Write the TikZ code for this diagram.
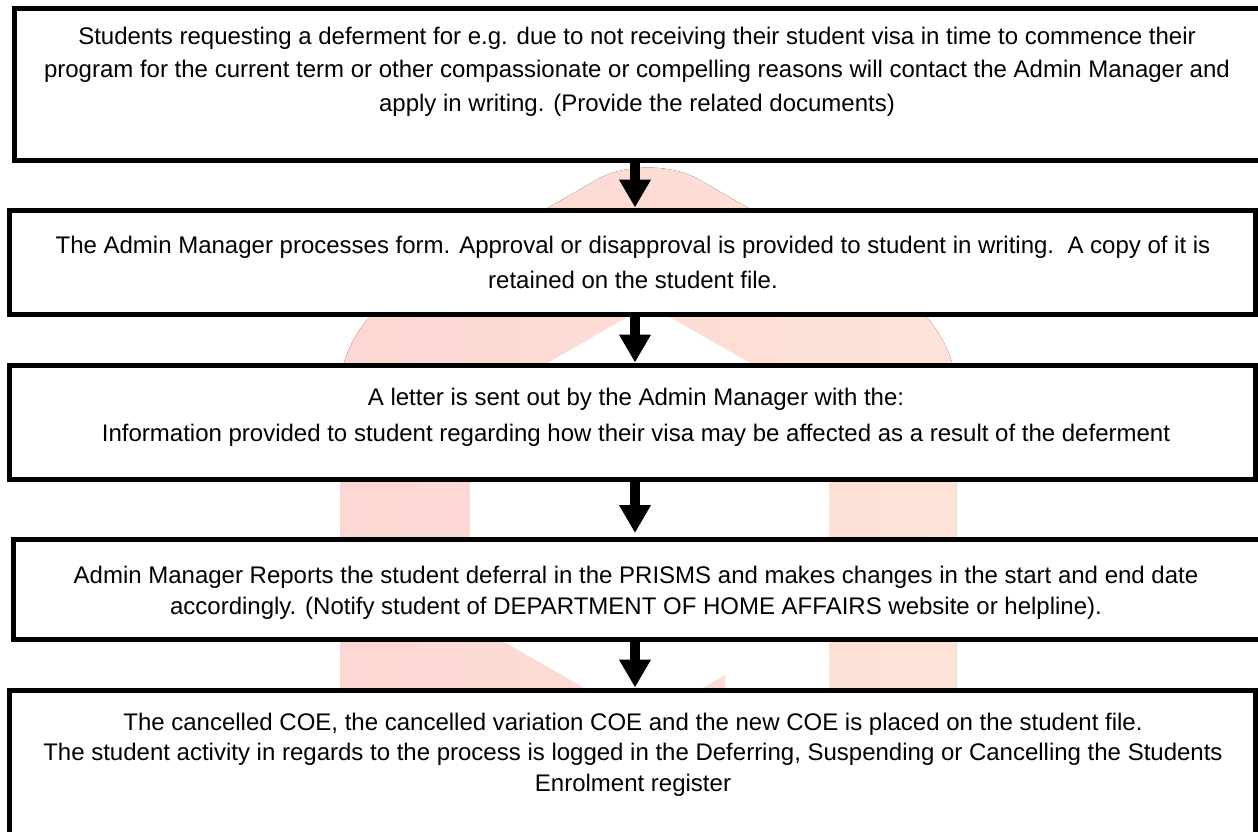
\documentclass[tikz,border=0pt]{standalone}
\usepackage{fontspec}
\setmainfont{Liberation Sans}
\usetikzlibrary{arrows.meta,fit}
\definecolor{wmpink}{RGB}{252,215,211}
\definecolor{wmpeach}{RGB}{253,227,216}
\definecolor{wmmid}{RGB}{253,222,214}
\begin{document}
\begin{tikzpicture}[x=1pt,y=-1pt,
  box/.style={draw=black, line width=5pt, fill=white, inner sep=0pt},
  txt/.style={font=\fontsize{24}{#1}\selectfont, align=center, inner sep=0pt, anchor=base},
  flow/.style={line width=10pt, -{Triangle[width=30pt,length=28pt]}}]
\useasboundingbox (0,0) rectangle (1258,831);
\clip (0,0) rectangle (1258,831);
\fill[white] (0,0) rectangle (1258,831);
% watermark
\fill[left color=wmpink, right color=wmpeach, rounded corners=60pt]
  (648,760) -- (340,760) -- (340,328) -- (648,150) -- (956,328) -- (956,760) -- cycle;
\fill[white] (648,305) -- (470,408) -- (470,622) -- (620,708.6) -- (620,780) -- (829,780) -- (829,408) -- cycle;
\fill[wmmid] (725,675) -- (725,740) -- (612,740) -- cycle;
% boxes
\node[box, fit={(14,8.5) (1275,160)}] (b1) {};
\node[box, fit={(9,210) (1255,314)}] (b2) {};
\node[box, fit={(9,365) (1255,479)}] (b3) {};
\node[box, fit={(13,539) (1275,639)}] (b4) {};
\node[box, fit={(9,690) (1255,860)}] (b5) {};
% texts (anchor base = last line)
\node[txt=33.5] (t1) at (637,111) {Students requesting a deferment for e.g. due to not receiving their student visa in time to commence their\\program for the current term or other compassionate or compelling reasons will contact the Admin Manager and\\apply in writing. (Provide the related documents)};
\node[txt=35] (t2) at (633,288) {The Admin Manager processes form. Approval or disapproval is provided to student in writing.\ \ A copy of it is\\retained on the student file.};
\node[txt=36] (t3) at (636,441) {A letter is sent out by the Admin Manager with the:\\Information provided to student regarding how their visa may be affected as a result of the deferment};
\node[txt=31] (t4) at (636,614) {Admin Manager Reports the student deferral in the PRISMS and makes changes in the start and end date\\accordingly. (Notify student of DEPARTMENT OF HOME AFFAIRS website or helpline).};
\node[txt=30.5] (t5) at (633,791) {The cancelled COE, the cancelled variation COE and the new COE is placed on the student file.\\The student activity in regards to the process is logged in the Deferring, Suspending or Cancelling the Students\\Enrolment register};
% arrows
\coordinate (ax) at (635,0);
\draw[flow] (b1.south -| ax) -- (b2.north -| ax);
\draw[flow] (b2.south -| ax) -- (b3.north -| ax);
\draw[flow] (b3.south -| ax) -- ([yshift=3.5pt]b4.north -| ax);
\draw[flow] (b4.south -| ax) -- (b5.north -| ax);
\end{tikzpicture}
\end{document}
